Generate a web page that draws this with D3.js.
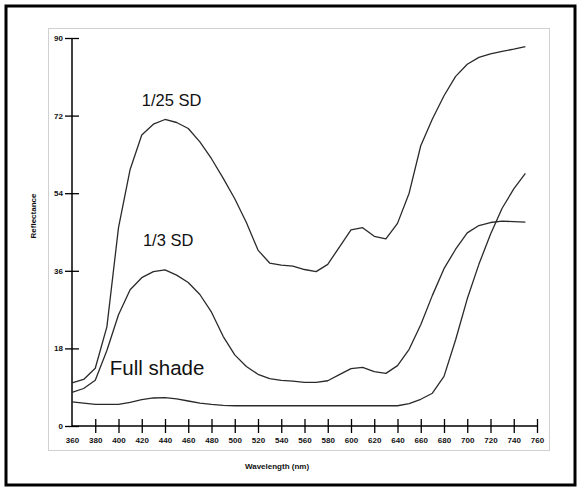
<!DOCTYPE html>
<html>
<head>
<meta charset="utf-8">
<script src="https://cdn.jsdelivr.net/npm/d3@7"></script>
<style>
  html, body { margin: 0; padding: 0; background: #fff; }
  svg { display: block; }
  .tick-label { font-family: "Liberation Sans", Arial, sans-serif; font-weight: bold; font-size: 8px; fill: #111; }
</style>
</head>
<body>
<svg id="chart" width="579" height="489"></svg>
<script>
// wavelength samples (nm), every 10 nm
const wavelengths = d3.range(360, 751, 10);

// reflectance
const sd25 = [10.0, 10.8, 13.4, 23.0, 46.0, 59.5, 67.5, 70.0, 71.1, 70.4,
  69.0, 65.9, 62.0, 57.5, 52.7, 47.2, 40.8, 37.8, 37.3, 37.1,
  36.3, 35.8, 37.5, 41.5, 45.5, 46.0, 44.0, 43.4, 47.0, 54.0,
  65.0, 71.2, 76.6, 81.1, 83.9, 85.5, 86.3, 86.9, 87.4, 88.0];
const sd3 = [7.8, 8.7, 10.6, 17.5, 25.8, 31.6, 34.4, 35.8, 36.2, 35.0,
  33.3, 30.5, 26.4, 20.8, 16.5, 13.8, 12.0, 11.0, 10.6, 10.4,
  10.1, 10.1, 10.5, 11.9, 13.3, 13.6, 12.6, 12.2, 14.0, 17.8,
  23.5, 30.3, 36.5, 41.0, 44.8, 46.5, 47.2, 47.5, 47.4, 47.3];
const fullShade = [5.6, 5.3, 5.0, 5.0, 5.0, 5.5, 6.1, 6.5, 6.6, 6.3,
  5.8, 5.3, 5.0, 4.8, 4.7, 4.7, 4.7, 4.7, 4.7, 4.7,
  4.7, 4.7, 4.7, 4.7, 4.7, 4.7, 4.7, 4.7, 4.7, 5.2,
  6.2, 7.6, 11.5, 20.0, 29.5, 37.5, 44.5, 50.5, 55.0, 58.6];

const xTicks = d3.range(360, 761, 20);
const yTicks = [0, 18, 36, 54, 72, 90];

const labels = [
  { text: '1/25 SD', w: 420, v: 74.3, size: 16.5 },
  { text: '1/3 SD', w: 421, v: 41.8, size: 16.5 },
  { text: 'Full shade', w: 392.5, v: 11.8, size: 20.5 },
];

const svg = d3.select('#chart');

// frames
svg.append('rect').attr('x', 6).attr('y', 6).attr('width', 569).attr('height', 479)
  .attr('fill', 'none').attr('stroke', '#000').attr('stroke-width', 3);
svg.append('rect').attr('x', 48.5).attr('y', 28.5).attr('width', 501).attr('height', 422)
  .attr('fill', 'none').attr('stroke', '#d0d0d0').attr('stroke-width', 1);

const x = d3.scaleLinear().domain([360, 760]).range([72, 537]);
const y = d3.scaleLinear().domain([0, 90]).range([426, 38]);

// axes: ticks cross the axis line
const yAxis = svg.append('g').attr('transform', `translate(${x(360)},0)`)
  .call(d3.axisLeft(y).tickValues(yTicks).tickSize(7).tickPadding(3).tickFormat(d3.format('d')));
yAxis.select('.domain').attr('stroke', '#000').attr('stroke-width', 1.5).attr('d', `M0,${y(0)}V${y(90)}`);
yAxis.selectAll('.tick line').attr('x1', -7).attr('x2', 7).attr('stroke', '#000').attr('stroke-width', 1.3);
yAxis.selectAll('.tick text').attr('class', 'tick-label').attr('x', -9);

const xAxis = svg.append('g').attr('transform', `translate(0,${y(0)})`)
  .call(d3.axisBottom(x).tickValues(xTicks).tickSize(7).tickPadding(5).tickFormat(d3.format('d')));
xAxis.select('.domain').attr('stroke', '#000').attr('stroke-width', 1.5).attr('d', `M${x(360)},0H${x(760)}`);
xAxis.selectAll('.tick line').attr('y1', -7).attr('y2', 7).attr('stroke', '#000').attr('stroke-width', 1.3);
xAxis.selectAll('.tick text').attr('class', 'tick-label').attr('y', 11);
// the origin tick on x has no cross mark in the picture
xAxis.selectAll('.tick').filter(d => d === 360).select('line').remove();

// axis titles
svg.append('text').attr('class', 'tick-label').attr('text-anchor', 'middle')
  .attr('x', 277).attr('y', 469).text('Wavelength (nm)');
svg.append('text').attr('class', 'tick-label').attr('text-anchor', 'middle')
  .attr('transform', 'translate(36,216) rotate(-90)').text('Reflectance');

// curves
const line = d3.line().x((d, i) => x(wavelengths[i])).y(d => y(d)).curve(d3.curveLinear);
[sd25, sd3, fullShade].forEach(series => {
  svg.append('path').datum(series).attr('d', line)
    .attr('fill', 'none').attr('stroke', '#2a2a2a').attr('stroke-width', 1.3)
    .attr('stroke-linejoin', 'round');
});

// curve labels
labels.forEach(l => {
  svg.append('text').attr('x', x(l.w)).attr('y', y(l.v))
    .attr('font-family', '"Liberation Sans", Arial, sans-serif')
    .attr('font-size', l.size).attr('fill', '#111').text(l.text);
});
</script>
</body>
</html>
